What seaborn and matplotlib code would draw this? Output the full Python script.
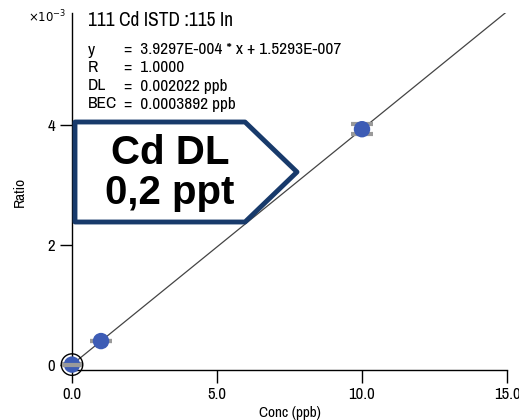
import numpy as np
import pandas as pd
import matplotlib
matplotlib.use('Agg')
import matplotlib.pyplot as plt
from matplotlib.patches import Polygon
from matplotlib.ticker import FuncFormatter
import seaborn as sns

# calibration data
conc = [0.0, 1.0, 10.0]
ratio = [0.0000002, 0.000393, 0.00393]
ratio_err = [0.000003, 0.000003, 0.00008]
slope = 3.9297e-4
intercept = 1.5293e-7
fit_x = [0.0, 15.0]

title = "111 Cd ISTD :115 In"
stat_names = ["y", "R", "DL", "BEC"]
stat_values = ["3.9297E-004 * x + 1.5293E-007", "1.0000", "0.002022 ppb", "0.0003892 ppb"]
callout = "Cd DL\n0,2 ppt"

W, H = 519, 420
sns.set_style("ticks")
plt.rcParams['font.family'] = ['Archivo Narrow', 'DejaVu Sans']
plt.rcParams['text.color'] = 'black'
plt.rcParams['axes.labelcolor'] = 'black'

fig = plt.figure(figsize=(W / 100, H / 100), dpi=100)
ax = fig.add_axes([72 / W, 1 - 370 / H, (507 - 72) / W, (370 - 13) / H])

fit_df = pd.DataFrame({"x": fit_x, "y": [slope * v + intercept for v in fit_x]})
sns.lineplot(data=fit_df, x="x", y="y", color="#444444", linewidth=0.9, ax=ax, zorder=2)

pts = pd.DataFrame({"conc": conc, "ratio": ratio})
ax.errorbar(conc, ratio, yerr=ratio_err, fmt="none", ecolor="#9a9a9a",
            elinewidth=1.2, capsize=8, capthick=3, zorder=3, clip_on=False)
sns.scatterplot(data=pts, x="conc", y="ratio", color="#3d5cb5", s=140,
                edgecolor="none", ax=ax, zorder=4, clip_on=False)
# blank point highlight ring
ax.scatter(conc[:1], ratio[:1], s=240, facecolors="none", edgecolors="black",
           linewidths=1.0, zorder=5, clip_on=False)
ax.errorbar(conc[:1], ratio[:1], xerr=[0.35], fmt="none", ecolor="#9a9a9a",
            elinewidth=3, zorder=6, clip_on=False)

ax.set_xlim(0, 15)
ax.set_ylim(-0.00009, 0.00587)
ax.set_xticks([0, 5, 10, 15])
ax.set_yticks([0, 0.002, 0.004])
ax.xaxis.set_major_formatter(FuncFormatter(lambda v, p: f"{v:.1f}"))
ax.yaxis.set_major_formatter(FuncFormatter(lambda v, p: f"{v * 1000:.0f}"))
ax.tick_params(length=9, width=1, labelsize=12, colors="black", pad=3)
for s in ["top", "right"]:
    ax.spines[s].set_visible(False)
for s in ["left", "bottom"]:
    ax.spines[s].set_linewidth(1)
    ax.spines[s].set_color("black")
ax.set_xlabel("Conc (ppb)", fontsize=11, labelpad=3)
ax.set_ylabel("Ratio", fontsize=11, labelpad=15)

fig.text(28 / W, 1 - 17 / H, r"$\times10^{-3}$", fontsize=8.5, va="center",
         family="DejaVu Sans")
fig.text(88 / W, 1 - 20 / H, title, fontsize=14, va="center")
for i, (n, v) in enumerate(zip(stat_names, stat_values)):
    yy = 1 - (50 + 18 * i) / H
    fig.text(88 / W, yy, n, fontsize=12.5, va="center")
    fig.text(124 / W, yy, "=  " + v, fontsize=12.5, va="center")

poly = Polygon([(75 / W, 1 - 122 / H), (245 / W, 1 - 122 / H), (297 / W, 1 - 172 / H),
                (245 / W, 1 - 222 / H), (75 / W, 1 - 222 / H)], closed=True,
               transform=fig.transFigure, facecolor="white", edgecolor="#183a6b",
               linewidth=3.5, joinstyle="round", zorder=10, clip_on=False)
ax.add_patch(poly)
ax.text(170 / W, 1 - 173 / H, callout, transform=fig.transFigure, ha="center", va="center",
        fontsize=29, fontweight="bold", family=["Liberation Sans", "DejaVu Sans"],
        linespacing=1.1, zorder=11)

fig.savefig("out.png", dpi=100)
